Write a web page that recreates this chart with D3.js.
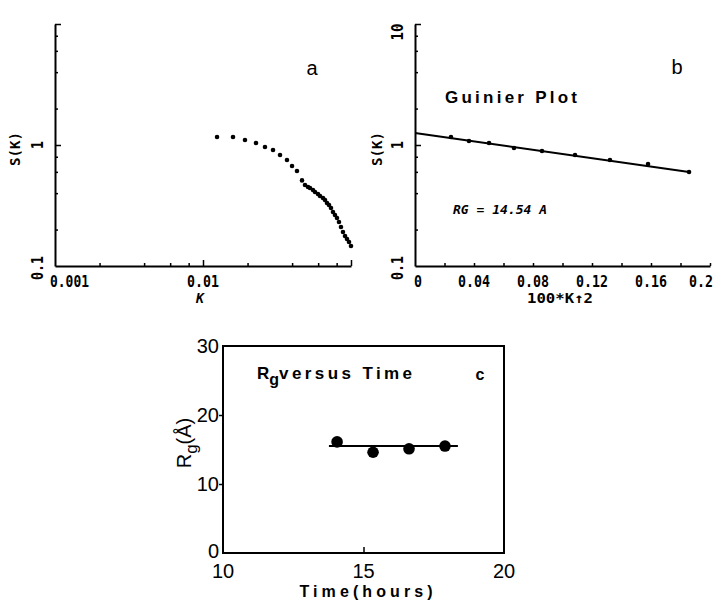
<!DOCTYPE html>
<html>
<head>
<meta charset="utf-8">
<script src="https://cdn.jsdelivr.net/npm/d3@7"></script>
<style>
  body { margin: 0; background: #fff; }
  svg { display: block; }
</style>
</head>
<body>
<svg id="chart" width="717" height="603"></svg>
<script>
// panel a: S(K) against K, log-log
const kA = [0.01244, 0.01595, 0.01922, 0.02281, 0.02623, 0.02972, 0.03314, 0.03694, 0.03995, 0.04316, 0.04666,
  0.04889, 0.05123, 0.05284, 0.05535, 0.05711, 0.0598, 0.06174, 0.06469, 0.06673, 0.06884, 0.07102, 0.07326,
  0.07557, 0.07795, 0.08041, 0.08295, 0.08557, 0.08827, 0.09111, 0.09397, 0.09694, 0.1];
const sA = [1.164, 1.164, 1.100, 1.039, 0.963, 0.909, 0.827, 0.752, 0.671, 0.610, 0.510,
  0.4672, 0.4497, 0.4412, 0.4247, 0.4089, 0.3936, 0.3790, 0.3648, 0.3511, 0.3317, 0.3192, 0.3015,
  0.2794, 0.2639, 0.2492, 0.2310, 0.2101, 0.1910, 0.1770, 0.1672, 0.1579, 0.1463];
const xTicksA = [0.002, 0.004, 0.006, 0.008, 0.01, 0.02, 0.04, 0.06, 0.08, 0.1];
const xLabelsA = ["0.001", "0.01"];
const yTicksLog = [0.2, 0.4, 0.6, 0.8, 1, 2, 4, 6, 8, 10];

// panel b: Guinier plot
const kB = [0.0244, 0.0366, 0.0502, 0.0671, 0.0861, 0.1085, 0.1322, 0.158, 0.1858];
const sB = [1.164, 1.079, 1.039, 0.944, 0.892, 0.827, 0.752, 0.696, 0.598];
const fitBX = [0, 0.1858];
const fitBY = [1.256, 0.598];
const xTicksB = [0.02, 0.04, 0.06, 0.08, 0.1, 0.12, 0.14, 0.16, 0.18, 0.2];
const xLabelsB = ["0", "0.04", "0.08", "0.12", "0.16", "0.2"];

// panel c: Rg versus time
const timeC = [14.06, 15.34, 16.62, 17.9];
const rgC = [16.1, 14.6, 15.1, 15.5];
const fitCX = [13.77, 18.36];
const fitCY = [15.5, 15.5];
const xLabelsC = [10, 15, 20];
const yLabelsC = [0, 10, 20, 30];

const svg = d3.select("#chart");
const mono = "'DejaVu Sans Mono', monospace";
const sans = "'Liberation Sans', Arial, sans-serif";

function monoText(g, x, y, str, len, opts) {
  opts = opts || {};
  const t = g.append("text")
    .attr("x", x).attr("y", y)
    .attr("font-family", mono)
    .attr("font-weight", "bold")
    .attr("font-size", opts.size || 15)
    .attr("text-anchor", opts.anchor || "middle")
    .attr("textLength", len)
    .attr("lengthAdjust", "spacingAndGlyphs")
    .text(str);
  if (opts.italic) t.attr("font-style", "italic");
  if (opts.rotate) t.attr("transform", "rotate(-90," + x + "," + y + ")");
  return t;
}

function logPanel(x, y, xTicks, majorX) {
  const g = svg.append("g");
  const ax = g.append("g").attr("transform", "translate(0," + y.range()[0] + ")")
    .call(d3.axisBottom(x).tickValues(xTicks).tickSize(-3).tickSizeOuter(0).tickFormat(""));
  ax.selectAll(".tick line").attr("stroke-width", 1.5)
    .attr("y2", d => majorX.indexOf(d) >= 0 ? -6 : -3);
  const ay = g.append("g").attr("transform", "translate(" + x.range()[0] + ",0)")
    .call(d3.axisLeft(y).tickValues(yTicksLog).tickSize(-3).tickSizeOuter(0).tickFormat(""));
  ay.selectAll(".tick line").attr("stroke-width", 1.5)
    .attr("x2", d => (d === 1 || d === 10) ? 6 : 3);
  g.selectAll(".domain").attr("stroke-width", 2);
  return g;
}

// ---------- panel a ----------
const xA = d3.scaleLog().domain([0.001, 0.1]).range([55, 351]);
const yA = d3.scaleLog().domain([0.1, 10]).range([266, 24]);
const gA = logPanel(xA, yA, xTicksA, [0.01, 0.1]);

gA.selectAll("circle").data(kA).join("circle")
  .attr("cx", d => xA(d))
  .attr("cy", (d, i) => yA(sA[i]))
  .attr("r", 2.3)
  .attr("fill", "#000");

monoText(gA, 50, 287, xLabelsA[0], 39, { anchor: "start" });
monoText(gA, xA(0.01), 287, xLabelsA[1], 32);
monoText(gA, 43, yA(1), "1", 8, { rotate: true });
monoText(gA, 43, 268, "0.1", 24, { rotate: true });
monoText(gA, 20, 149, "S(K)", 34, { rotate: true, size: 14 });
monoText(gA, 200, 303, "K", 8, { italic: true, size: 14 });
gA.append("text").attr("x", 312).attr("y", 75)
  .attr("font-family", sans).attr("font-size", 20)
  .attr("text-anchor", "middle").text("a");

// ---------- panel b ----------
const xB = d3.scaleLinear().domain([0, 0.2]).range([415, 710]);
const yB = d3.scaleLog().domain([0.1, 10]).range([266, 24]);
const gB = logPanel(xB, yB, xTicksB, []);

gB.append("path")
  .datum(fitBX.map((d, i) => [d, fitBY[i]]))
  .attr("d", d3.line().x(d => xB(d[0])).y(d => yB(d[1])))
  .attr("fill", "none").attr("stroke", "#000").attr("stroke-width", 2);

gB.selectAll("circle").data(kB).join("circle")
  .attr("cx", d => xB(d))
  .attr("cy", (d, i) => yB(sB[i]))
  .attr("r", 2.3)
  .attr("fill", "#000");

xLabelsB.forEach(s => {
  const v = +s;
  let cx = xB(v);
  if (v === 0) cx += 3;
  if (v === 0.2) cx -= 9;
  monoText(gB, cx, 287, s, s.length * 8);
});
monoText(gB, 403, yB(1), "1", 8, { rotate: true });
monoText(gB, 403, 268, "0.1", 24, { rotate: true });
monoText(gB, 403, 32, "10", 17, { rotate: true });
monoText(gB, 382, 149, "S(K)", 34, { rotate: true, size: 14 });
monoText(gB, 560, 303, "100*K\u21912", 66, { size: 14 });
monoText(gB, 453, 214, "RG = 14.54 A", 94, { anchor: "start", italic: true, size: 13 });
gB.append("text").attr("x", 445).attr("y", 103)
  .attr("font-family", sans).attr("font-weight", "bold").attr("font-size", 17)
  .attr("textLength", 132).attr("lengthAdjust", "spacing")
  .text("Guinier Plot");
gB.append("text").attr("x", 677).attr("y", 74)
  .attr("font-family", sans).attr("font-size", 20)
  .attr("text-anchor", "middle").text("b");

// ---------- panel c ----------
const xC = d3.scaleLinear().domain([10, 20]).range([223, 504]);
const yC = d3.scaleLinear().domain([0, 30]).range([553, 346]);
const gC = svg.append("g");

gC.append("rect")
  .attr("x", xC(10)).attr("y", yC(30))
  .attr("width", xC(20) - xC(10)).attr("height", yC(0) - yC(30))
  .attr("fill", "none").attr("stroke", "#000").attr("stroke-width", 2);

const axC = gC.append("g").attr("transform", "translate(0," + yC(0) + ")")
  .call(d3.axisBottom(xC).tickValues([15]).tickSize(-6).tickSizeOuter(0).tickFormat(""));
const ayC = gC.append("g").attr("transform", "translate(" + xC(10) + ",0)")
  .call(d3.axisLeft(yC).tickValues([10, 20]).tickSize(4).tickSizeOuter(0).tickFormat(""));
gC.selectAll(".domain").remove();
gC.selectAll(".tick line").attr("stroke-width", 1.5);

gC.selectAll(".xl").data(xLabelsC).join("text")
  .attr("x", d => xC(d)).attr("y", 578)
  .attr("font-family", sans).attr("font-size", 20)
  .attr("text-anchor", "middle").text(d => d);
gC.selectAll(".yl").data(yLabelsC).join("text")
  .attr("x", 219).attr("y", d => yC(d) + (d === 0 ? 5 : 7))
  .attr("font-family", sans).attr("font-size", 20)
  .attr("text-anchor", "end").text(d => d);

gC.append("path")
  .datum(fitCX.map((d, i) => [d, fitCY[i]]))
  .attr("d", d3.line().x(d => xC(d[0])).y(d => yC(d[1])))
  .attr("fill", "none").attr("stroke", "#000").attr("stroke-width", 2);

gC.selectAll("circle").data(timeC).join("circle")
  .attr("cx", d => xC(d))
  .attr("cy", (d, i) => yC(rgC[i]))
  .attr("r", 5.8)
  .attr("fill", "#000");

const title = gC.append("text").attr("x", 257).attr("y", 379)
  .attr("font-family", sans).attr("font-weight", "bold").attr("font-size", 17);
title.append("tspan").text("R");
title.append("tspan").attr("dy", 6).attr("font-size", 16).text("g");
title.append("tspan").attr("dy", -6).attr("letter-spacing", 3.4).text("versus Time");

gC.append("text").attr("x", 480).attr("y", 380)
  .attr("font-family", sans).attr("font-weight", "bold").attr("font-size", 16)
  .attr("text-anchor", "middle").text("c");

gC.append("text").attr("x", 366).attr("y", 597)
  .attr("font-family", sans).attr("font-weight", "bold").attr("font-size", 16)
  .attr("text-anchor", "middle")
  .attr("textLength", 133).attr("lengthAdjust", "spacing")
  .text("Time(hours)");

const ylab = gC.append("text")
  .attr("transform", "translate(191,443) rotate(-90)")
  .attr("font-family", sans).attr("font-size", 20)
  .attr("text-anchor", "middle");
ylab.append("tspan").text("R");
ylab.append("tspan").attr("dy", 6).attr("font-size", 17).text("g");
ylab.append("tspan").attr("dy", -6).text("(\u00C5)");
</script>
</body>
</html>
